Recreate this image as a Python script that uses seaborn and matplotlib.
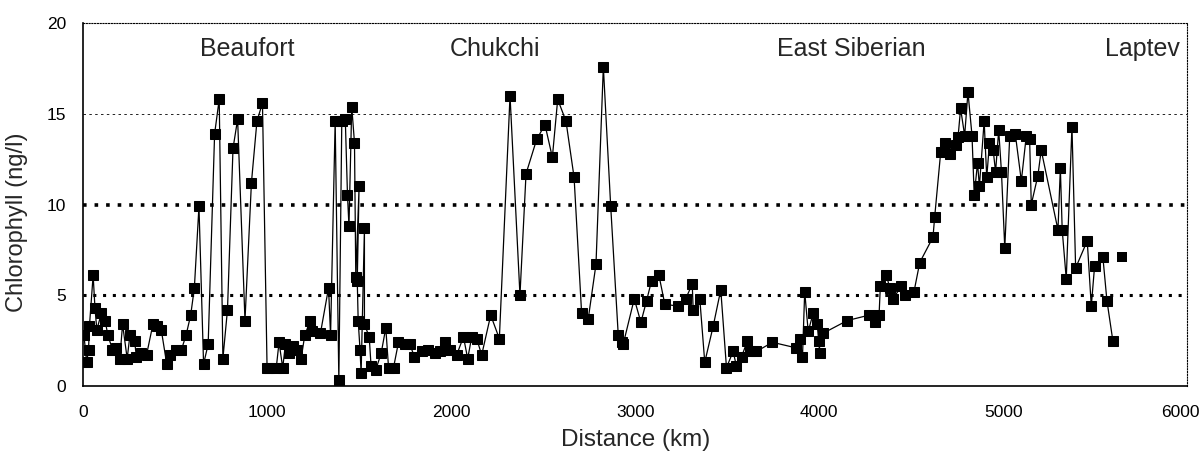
import matplotlib
matplotlib.use("Agg")
import matplotlib.pyplot as plt
import matplotlib.transforms as mtransforms
import seaborn as sns

# transect data
distance_km = [5, 20, 30, 35, 55, 65, 75, 100, 120, 135, 160, 180, 200, 215, 240, 255, 280, 290, 315, 345,
               380, 400, 425, 455, 475, 505, 535, 560, 585, 605, 630, 655, 680, 715, 740, 760, 785, 815, 840,
               880, 915, 945, 975, 1000, 1010, 1050, 1065, 1085, 1100, 1120, 1140, 1165, 1185, 1205, 1235,
               1245, 1290, 1334, 1345, 1370, 1390, 1406, 1425, 1437, 1445, 1460, 1475, 1482, 1500, 1490,
               1495, 1505, 1511, 1529, 1529, 1555, 1565, 1591, 1620, 1645, 1660, 1687, 1714, 1748, 1775,
               1801, 1840, 1877, 1913, 1941, 1967, 1994, 2030, 2067, 2090, 2112, 2139, 2166, 2215, 2262,
               2320, 2374, 2407, 2465, 2510, 2550, 2579, 2624, 2668, 2709, 2745, 2787, 2827, 2867, 2908,
               2926, 2935, 2995, 3031, 3062, 3089, 3129, 3161, 3230, 3274, 3310, 3315, 3351, 3378, 3424,
               3465, 3496, 3532, 3550, 3578, 3610, 3626, 3659, 3746, 3872, 3894, 3909, 3921, 3940, 3967,
               3989, 4003, 4000, 4021, 4152, 4271, 4301, 4325, 4332, 4365, 4383, 4401, 4446, 4464, 4515,
               4546, 4618, 4627, 4660, 4682, 4709, 4745, 4754, 4768, 4790, 4808, 4830, 4842, 4860, 4870,
               4896, 4910, 4925, 4945, 4958, 4975, 4990, 5008, 5035, 5065, 5098, 5125, 5143, 5152, 5188,
               5206, 5297, 5310, 5320, 5342, 5373, 5393, 5456, 5478, 5496, 5541, 5563, 5595]
chlorophyll = [2.8, 1.3, 2.0, 3.3, 6.1, 4.3, 3.1, 4.0, 3.6, 2.8, 2.0, 2.1, 1.5, 3.4, 1.5, 2.8, 2.5, 1.6, 1.8, 1.7,
               3.4, 3.3, 3.1, 1.2, 1.7, 2.0, 2.0, 2.8, 3.9, 5.4, 9.9, 1.2, 2.3, 13.9, 15.8, 1.5, 4.2, 13.1, 14.7,
               3.6, 11.2, 14.6, 15.6, 1.0, 1.0, 1.0, 2.4, 1.0, 2.3, 1.8, 2.2, 2.0, 1.5, 2.8, 3.6,
               3.0, 2.9, 5.4, 2.8, 14.6, 0.3, 14.6, 14.7, 10.5, 8.8, 15.4, 13.4, 6.0, 11.0, 5.8,
               3.6, 2.0, 0.7, 8.7, 3.4, 2.7, 1.1, 0.9, 1.8, 3.2, 1.0, 1.0, 2.4, 2.3, 2.3,
               1.6, 1.9, 2.0, 1.8, 1.9, 2.4, 2.0, 1.7, 2.7, 1.5, 2.7, 2.6, 1.7, 3.9, 2.6,
               16.0, 5.0, 11.7, 13.6, 14.4, 12.6, 15.8, 14.6, 11.5, 4.0, 3.7, 6.7, 17.6, 9.9, 2.8,
               2.4, 2.3, 4.8, 3.5, 4.7, 5.8, 6.1, 4.5, 4.4, 4.8, 5.6, 4.2, 4.8, 1.3, 3.3,
               5.3, 1.0, 1.9, 1.1, 1.6, 2.5, 1.9, 1.9, 2.4, 2.1, 2.6, 1.6, 5.2, 3.0, 4.0,
               3.4, 1.8, 2.5, 2.9, 3.6, 3.9, 3.5, 3.9, 5.5, 6.1, 5.4, 4.8, 5.5, 5.0, 5.2,
               6.8, 8.2, 9.3, 12.9, 13.4, 12.8, 13.3, 13.7, 15.3, 13.8, 16.2, 13.8, 10.5, 12.3, 11.0,
               14.6, 11.5, 13.4, 13.0, 11.8, 14.1, 11.8, 7.6, 13.8, 13.9, 11.3, 13.8, 13.6, 10.0, 11.6,
               13.0, 8.6, 12.0, 8.6, 5.9, 14.3, 6.5, 8.0, 4.4, 6.6, 7.1, 4.7, 2.5]

# last station, not joined to the line
lone_km = [5646]
lone_chl = [7.1]

seas = ["Beaufort", "Chukchi", "East Siberian", "Laptev"]

sns.set_style("white")
plt.rcParams['font.family'] = ['Liberation Sans', 'DejaVu Sans']

fig = plt.figure(figsize=(12.03, 4.55), dpi=100)
ax = fig.add_axes([0.069, 0.152, 0.918, 0.797])

sns.lineplot(x=distance_km, y=chlorophyll, sort=False, estimator=None, ax=ax,
             color='black', linewidth=0.9, marker='s', markersize=6.8,
             markeredgecolor='black', markerfacecolor='black')
sns.scatterplot(x=lone_km, y=lone_chl, ax=ax, marker='s', s=60, color='black',
                edgecolor='black', linewidth=0)

# reference lines
ax.axhline(5, color='black', linestyle=(0, (1, 2.2)), linewidth=2.2, zorder=0)
ax.axhline(10, color='black', linestyle=(0, (1, 2.2)), linewidth=2.6, zorder=0)
ax.axhline(15, color='black', linestyle=(0, (3, 4)), linewidth=0.6, zorder=0)

ax.set_xlim(0, 6000)
ax.set_ylim(0, 20)
ax.set_xticks([0, 1000, 2000, 3000, 4000, 5000, 6000])
ax.set_yticks([0, 5, 10, 15, 20])
ax.tick_params(direction='in', length=5, width=0.8, labelsize=12.5, colors='black')
ax.tick_params(axis='x', pad=14)
ax.tick_params(axis='y', pad=12)

# keep the last x label inside the picture
last = ax.get_xticklabels()[-1]
last.set_transform(last.get_transform() + mtransforms.ScaledTranslation(-0.07, 0, fig.dpi_scale_trans))

for side in ['left', 'bottom']:
    ax.spines[side].set_color('black')
    ax.spines[side].set_linewidth(1.2)
for side in ['top', 'right']:
    ax.spines[side].set_color('black')
    ax.spines[side].set_linewidth(0.8)
    ax.spines[side].set_linestyle((0, (1, 1.5)))

ax.set_xlabel("Distance (km)", fontsize=17.5)
ax.xaxis.set_label_coords(0.5, -0.12)
ax.set_ylabel("Chlorophyll (ng/l)", fontsize=17)
ax.yaxis.set_label_coords(-0.05, 0.45)

ax.text(890, 18.6, seas[0], fontsize=18, ha='center', va='center')
ax.text(2240, 18.6, seas[1], fontsize=18, ha='center', va='center')
ax.text(4175, 18.6, seas[2], fontsize=18, ha='center', va='center')
ax.text(5960, 18.6, seas[3], fontsize=18, ha='right', va='center')

fig.savefig("out.png", dpi=100)
